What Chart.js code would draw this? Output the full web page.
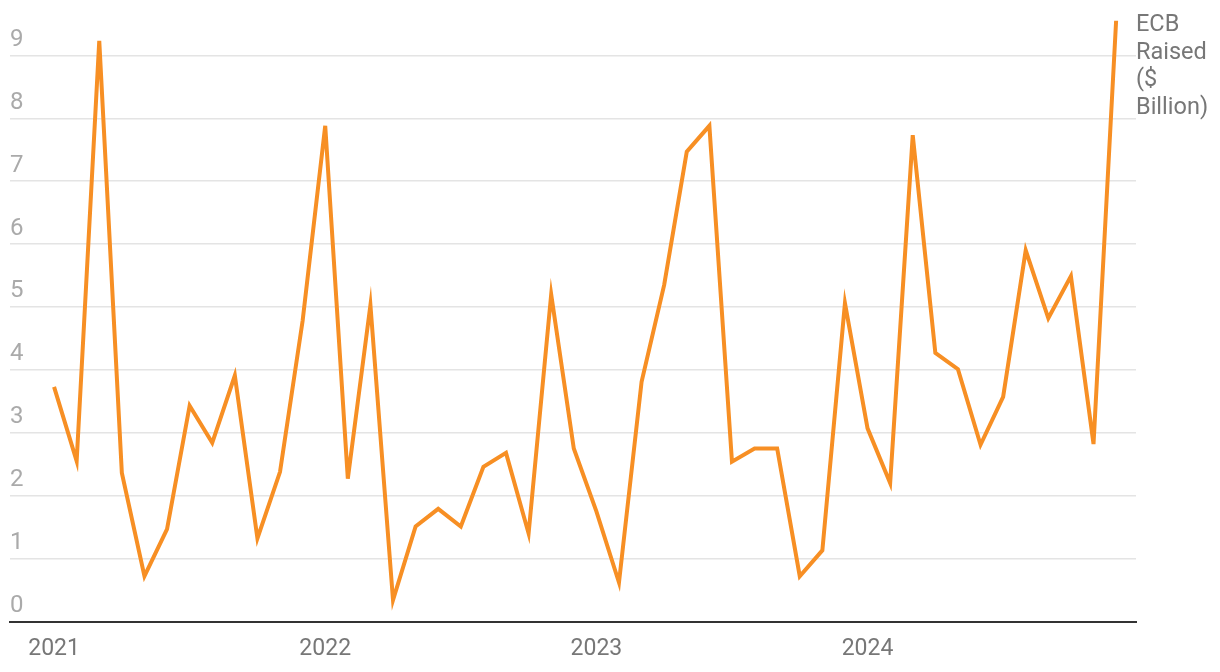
<!DOCTYPE html>
<html>
<head>
<meta charset="utf-8">
<script src="https://cdn.jsdelivr.net/npm/chart.js@4.4.1/dist/chart.umd.min.js"></script>
<style>
  html, body { margin: 0; padding: 0; background: #fff; }
  #wrap { width: 1220px; height: 672px; }
</style>
</head>
<body>
<div id="wrap"><canvas id="ecbChart" width="1220" height="672"></canvas></div>
<script>
// monthly ECB amounts raised, Jan 2021 - Dec 2024
const years = ['2021', '2022', '2023', '2024'];
const yearStartIndex = [0, 12, 24, 36];
const raised = [
  3.73, 2.55, 9.23, 2.36, 0.72, 1.47, 3.43, 2.84, 3.91, 1.32, 2.38, 4.78,
  7.88, 2.27, 5.03, 0.34, 1.51, 1.79, 1.51, 2.46, 2.68, 1.40, 5.20, 2.75,
  1.75, 0.62, 3.81, 5.35, 7.47, 7.88, 2.54, 2.75, 2.75, 0.72, 1.13, 5.06,
  3.07, 2.20, 7.73, 4.27, 4.01, 2.81, 3.57, 5.90, 4.82, 5.49, 2.82, 9.55
];
const yTicks = [0, 1, 2, 3, 4, 5, 6, 7, 8, 9];
const seriesTitle = ['ECB', 'Raised', '($', 'Billion)'];

const FONT = 'Roboto, "Noto Sans", sans-serif';

const sideTitle = {
  id: 'sideTitle',
  afterDraw(chart) {
    const { ctx, chartArea } = chart;
    ctx.save();
    ctx.font = '23.5px ' + FONT;
    ctx.fillStyle = '#777777';
    ctx.textAlign = 'left';
    ctx.textBaseline = 'alphabetic';
    seriesTitle.forEach((line, i) => {
      ctx.fillText(line, chartArea.right, 31 + i * 27.6);
    });
    ctx.restore();
  }
};

new Chart(document.getElementById('ecbChart'), {
  type: 'line',
  data: {
    datasets: [{
      label: 'ECB Raised ($ Billion)',
      data: raised.map((v, i) => ({ x: i, y: v })),
      borderColor: '#f78f24',
      borderWidth: 4,
      pointRadius: 0,
      tension: 0,
      fill: false
    }]
  },
  options: {
    responsive: false,
    animation: false,
    layout: { padding: { left: 10, right: 84, top: 0, bottom: 0 } },
    plugins: {
      legend: { display: false },
      tooltip: { enabled: false }
    },
    scales: {
      x: {
        type: 'linear',
        min: -1.95,
        max: 47.88,
        grid: { display: false, drawTicks: false },
        border: { display: true, color: '#333333', width: 2 },
        afterBuildTicks: (scale) => {
          scale.ticks = yearStartIndex.map(v => ({ value: v }));
        },
        afterFit: (scale) => {
          scale.height = 50.5;
          scale.paddingLeft = 0;
          scale.paddingRight = 0;
        },
        ticks: {
          autoSkip: false,
          maxRotation: 0,
          padding: 14,
          color: '#777777',
          font: { family: FONT, size: 23 },
          callback: (v) => years[yearStartIndex.indexOf(v)]
        }
      },
      y: {
        min: 0,
        max: 9.88,
        grid: { color: '#e4e4e4', lineWidth: 1.5, drawTicks: false },
        border: { display: false },
        afterBuildTicks: (scale) => {
          scale.ticks = yTicks.map(v => ({ value: v }));
        },
        afterFit: (scale) => {
          scale.width = 0;
          scale.paddingTop = 0;
          scale.paddingBottom = 0;
        },
        ticks: {
          mirror: true,
          padding: 0,
          labelOffset: -15.5,
          autoSkip: false,
          color: '#aaaaaa',
          font: { family: FONT, size: 24 }
        }
      }
    }
  },
  plugins: [sideTitle]
});
</script>
</body>
</html>
